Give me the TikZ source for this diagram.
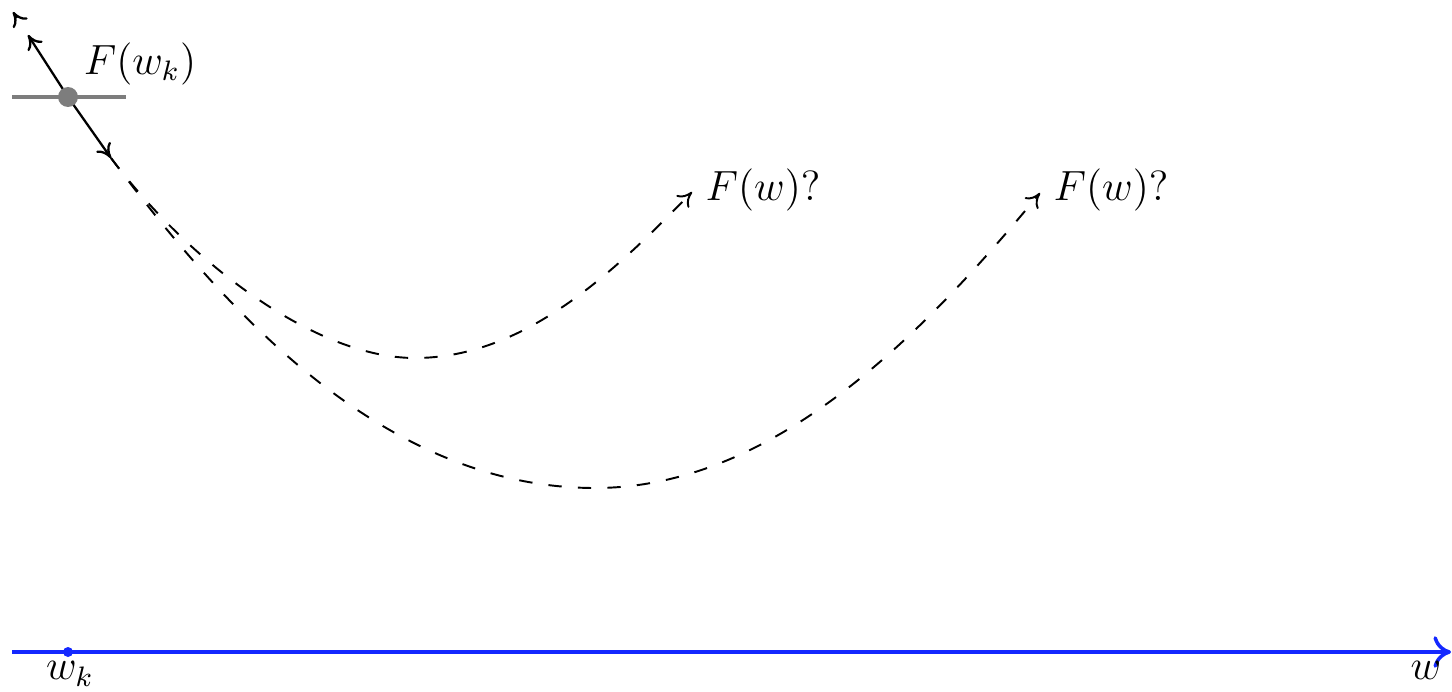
\documentclass[tikz,border=0pt]{standalone}
\usetikzlibrary{arrows.meta}
\definecolor{axisblue}{RGB}{20,40,255}
\definecolor{dotgray}{RGB}{125,125,125}
\tikzset{
  lbl/.style={inner sep=0pt, font=\fontsize{12}{14}\selectfont},
  guess/.style={dash pattern=on 3.8pt off 4.6pt, line width=0.55pt, -{To[length=4pt,width=5pt]}},
  tangent/.style={line width=0.65pt},
  axis/.style={axisblue, line width=1pt, -{To[length=5pt,width=9pt]}},
}
\begin{document}
\begin{tikzpicture}[x=0.01cm,y=-0.01cm]
\useasboundingbox (0,0) rectangle (1452,691);
% coordinates
\coordinate (p) at (68,97);
\coordinate (up) at (28,35);
\coordinate (upa) at (17,18);
\coordinate (upb) at (13,12);
\coordinate (dn) at (111,158);
\coordinate (hl) at (12,97);
\coordinate (hr) at (126,97);
\coordinate (b1) at (415,358);
\coordinate (b2) at (595,488);
\coordinate (e1) at (692,192);
\coordinate (e2) at (1040,193);
\coordinate (ax0) at (12,652);
\coordinate (ax1) at (1451,652);
\coordinate (wk) at (68,652);
% horizontal gray line and point
\draw[dotgray, line width=1.2pt] (hl) -- (hr);
% tangent
\draw[tangent, -{To[length=4pt,width=5pt]}] (p) -- (up);
\draw[tangent, -{To[length=4pt,width=5pt]}] (upa) -- (upb);
\draw[tangent, -{To[length=4pt,width=5pt]}] (p) -- (dn);
\fill[dotgray] (p) circle (10);
% dashed guesses
\draw[guess] (dn) .. controls (189,262) and (315,358) .. (b1)
                  .. controls (525,358) and (615,271) .. (e1);
\draw[guess] (dn) .. controls (213,294) and (375,488) .. (b2)
                  .. controls (775,488) and (925,332) .. (e2);
% labels
\node[lbl] (fk) at (140,64) {$F(w_k)$};
\node[lbl] (f1) at (763,190) {$F(w)?$};
\node[lbl] (f2) at (1111,190) {$F(w)?$};
% axis
\draw[axis] (ax0) -- (ax1);
\fill[axisblue] (wk) circle (5);
\node[lbl] (wkl) at (70,674) {$w_k$};
\node[lbl] (wl) at (1426,670) {$w$};
\end{tikzpicture}
\end{document}
